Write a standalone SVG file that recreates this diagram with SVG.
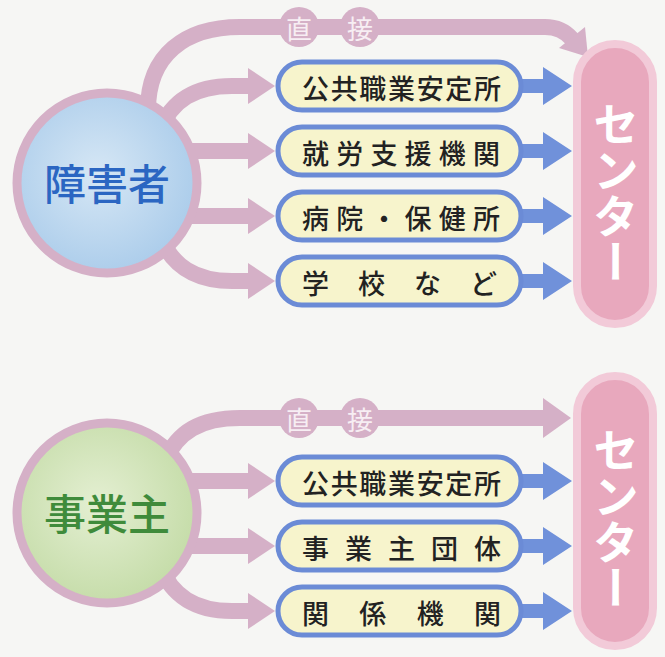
<svg xmlns="http://www.w3.org/2000/svg" width="665" height="657" viewBox="0 0 665 657">
<defs>
<radialGradient id="gBlue" cx="0.45" cy="0.45" r="0.6">
<stop offset="0" stop-color="#d6e7f5"/>
<stop offset="1" stop-color="#a9cbea"/>
</radialGradient>
<radialGradient id="gGreen" cx="0.45" cy="0.45" r="0.6">
<stop offset="0" stop-color="#e4efd2"/>
<stop offset="1" stop-color="#c3dba6"/>
</radialGradient>
</defs>
<style>
.band{fill:none;stroke:#d5b0c7;stroke-width:16}
.ph{fill:#d5b0c7}
.bh{fill:#7091da}
.box rect{fill:#f7f4cc;stroke:#6b8bd6;stroke-width:5}
.box text{font-family:"Noto Sans CJK JP","Noto Sans",sans-serif;font-size:27px;font-weight:500;fill:#222;dominant-baseline:central}
.lbl circle{fill:#d5b0c7}
.lbl text{font-family:"Noto Sans CJK JP",sans-serif;font-size:26px;fill:#f7eef3;text-anchor:middle;dominant-baseline:central}
.pill rect{fill:#e8a8bd;stroke:#f2cad8;stroke-width:8}
.pill text{font-family:"Noto Sans CJK JP",sans-serif;font-size:46px;font-weight:bold;fill:#ffffff;writing-mode:vertical-rl}
.src circle{stroke:#d5b0c7;stroke-width:9}
.src text{font-family:"Noto Sans CJK JP",sans-serif;font-size:42px;font-weight:500;text-anchor:middle;dominant-baseline:central}
</style>
<rect width="665" height="657" fill="#f6f6f4"/>

<g id="connectors">
<path class="band" d="M148,110 C148,55 185,27 240,27 L545,27 C558,27 566,32 572,39"/>
<polygon class="ph" points="588,57 559,48 585,27"/>
<path class="band" d="M160,130 C172,100 195,86 232,86 L250,86"/>
<polygon class="ph" points="248,68 275,86 248,104"/>
<path class="band" d="M150,151 L250,151"/>
<polygon class="ph" points="248,133 275,151 248,169"/>
<path class="band" d="M150,216 L250,216"/>
<polygon class="ph" points="248,198 275,216 248,234"/>
<path class="band" d="M160,236 C172,266 195,281 232,281 L250,281"/>
<polygon class="ph" points="248,263 275,281 248,299"/>
<path class="bh" d="M515,79 L543,79 L543,67 L572,86 L543,105 L543,93 L515,93 Z"/>
<path class="bh" d="M515,144 L543,144 L543,132 L572,151 L543,170 L543,158 L515,158 Z"/>
<path class="bh" d="M515,209 L543,209 L543,197 L572,216 L543,235 L543,223 L515,223 Z"/>
<path class="bh" d="M515,274 L543,274 L543,262 L572,281 L543,300 L543,288 L515,288 Z"/>
<path class="band" d="M165,460 C178,432 200,418 240,418 L545,418"/>
<polygon class="ph" points="543,398 571,418 543,438"/>
<path class="band" d="M150,481 L250,481"/>
<polygon class="ph" points="248,463 275,481 248,499"/>
<path class="band" d="M150,546 L250,546"/>
<polygon class="ph" points="248,528 275,546 248,564"/>
<path class="band" d="M160,566 C172,596 195,611 232,611 L250,611"/>
<polygon class="ph" points="248,593 275,611 248,629"/>
<path class="bh" d="M515,474 L543,474 L543,462 L572,481 L543,500 L543,488 L515,488 Z"/>
<path class="bh" d="M515,539 L543,539 L543,527 L572,546 L543,565 L543,553 L515,553 Z"/>
<path class="bh" d="M515,604 L543,604 L543,592 L572,611 L543,630 L543,618 L515,618 Z"/>
</g>

<g id="label-direct-top" class="lbl">
<circle cx="299" cy="27" r="20"/><text x="299" y="27">直</text>
<circle cx="360" cy="27" r="20"/><text x="360" y="27">接</text>
</g>
<g id="label-direct-bottom" class="lbl">
<circle cx="299" cy="418" r="20"/><text x="299" y="418">直</text>
<circle cx="360" cy="418" r="20"/><text x="360" y="418">接</text>
</g>

<g id="node-shougaisha" class="src">
<circle cx="107" cy="183" r="90" fill="url(#gBlue)"/>
<text x="107" y="181" fill="#2b66c2">障害者</text>
</g>
<g id="node-jigyounushi" class="src">
<circle cx="107" cy="513" r="90" fill="url(#gGreen)"/>
<text x="107" y="511" fill="#3f8b3b">事業主</text>
</g>

<g id="box-t1" class="box"><rect x="278" y="62" width="243" height="48" rx="24"/><text x="302" y="87" textLength="199" lengthAdjust="spacing">公共職業安定所</text></g>
<g id="box-t2" class="box"><rect x="278" y="127" width="243" height="48" rx="24"/><text x="302" y="152" textLength="198" lengthAdjust="spacing">就労支援機関</text></g>
<g id="box-t3" class="box"><rect x="278" y="192" width="243" height="48" rx="24"/><text x="302" y="217" textLength="198" lengthAdjust="spacing">病院・保健所</text></g>
<g id="box-t4" class="box"><rect x="278" y="257" width="243" height="48" rx="24"/><text x="302" y="282" textLength="195" lengthAdjust="spacing">学校など</text></g>
<g id="box-b1" class="box"><rect x="278" y="457" width="243" height="48" rx="24"/><text x="302" y="482" textLength="199" lengthAdjust="spacing">公共職業安定所</text></g>
<g id="box-b2" class="box"><rect x="278" y="522" width="243" height="48" rx="24"/><text x="302" y="547" textLength="199" lengthAdjust="spacing">事業主団体</text></g>
<g id="box-b3" class="box"><rect x="278" y="587" width="243" height="48" rx="24"/><text x="302" y="612" textLength="199" lengthAdjust="spacing">関係機関</text></g>

<g id="center-top" class="pill">
<rect x="577" y="44" width="76" height="280" rx="38"/>
<text x="616" y="101">センター</text>
</g>
<g id="center-bottom" class="pill">
<rect x="577" y="376" width="76" height="270" rx="38"/>
<text x="616" y="427">センター</text>
</g>
</svg>
